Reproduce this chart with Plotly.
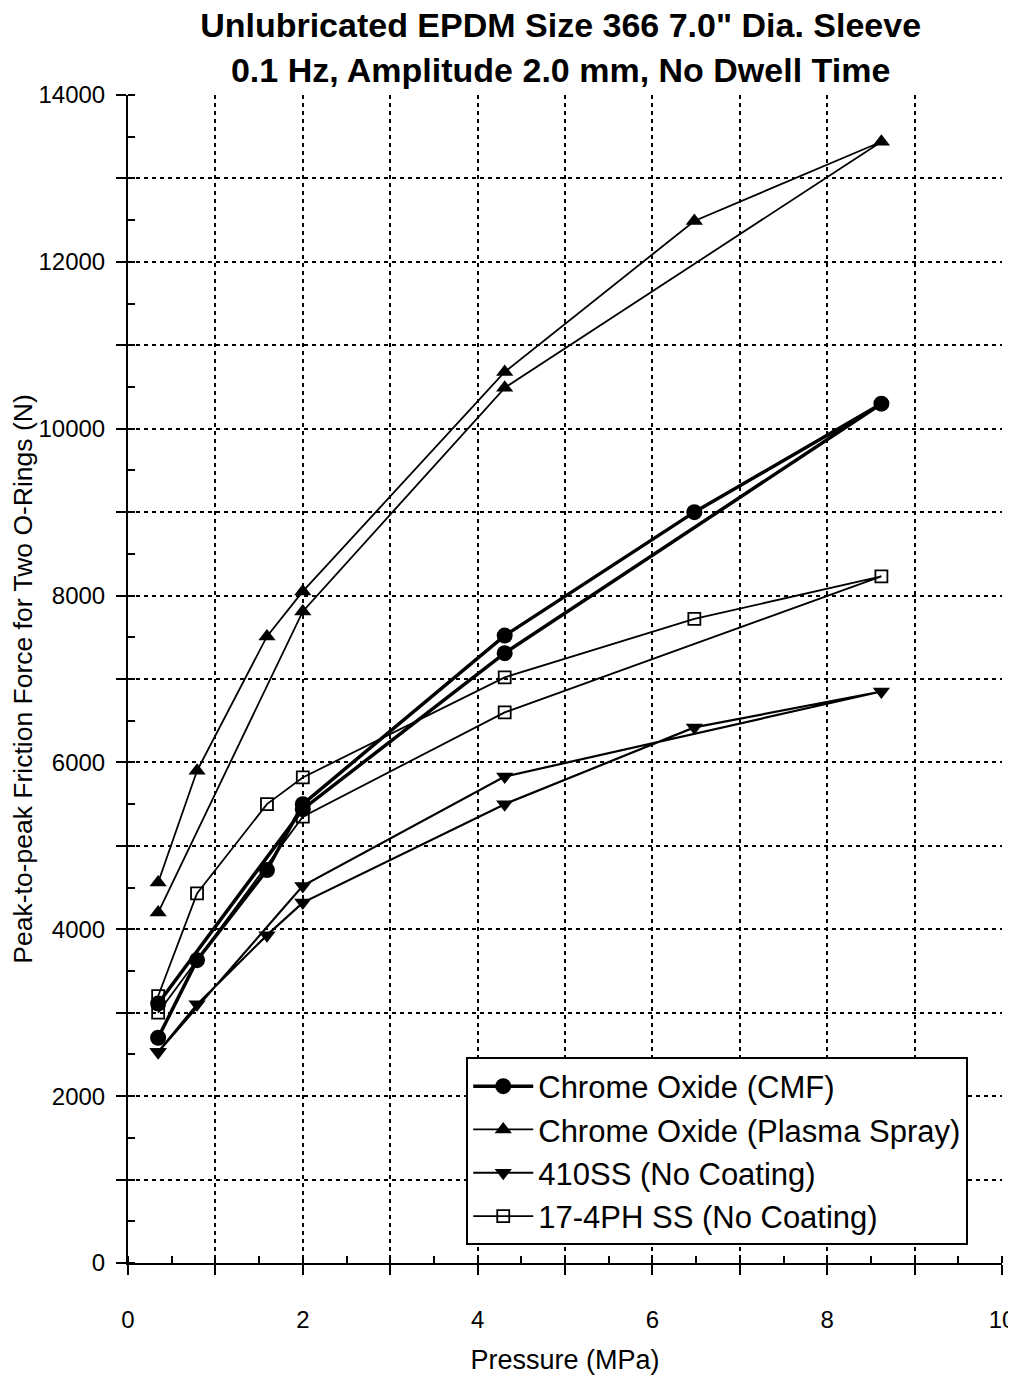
import plotly.graph_objects as go

# Pressure (MPa) along each loading/unloading loop
cmf_p = [0.345, 0.79, 1.59, 2.0, 4.31, 6.48, 8.62, 4.31, 2.0, 0.345]
cmf_f = [2700, 3630, 4710, 5500, 7520, 9000, 10300, 7310, 5440, 3110]

plasma_p = [0.345, 0.79, 1.59, 2.0, 4.31, 6.48, 8.62, 4.31, 2.0, 0.345]
plasma_f = [4560, 5900, 7510, 8050, 10680, 12490, 13440, 10490, 7810, 4200]

ss410_p = [0.345, 0.79, 1.59, 2.0, 4.31, 6.48, 8.62, 4.31, 2.0, 0.345]
ss410_f = [2530, 3100, 3930, 4320, 5500, 6420, 6850, 5830, 4520, 2530]

ss174_p = [0.345, 0.79, 1.59, 2.0, 4.31, 6.48, 8.62, 4.31, 2.0, 0.345]
ss174_f = [3200, 4430, 5500, 5820, 7020, 7720, 8230, 6600, 5350, 3000]

x_tickvals = list(range(0, 11))
x_ticktext = [str(v) if v % 2 == 0 else "" for v in x_tickvals]
y_tickvals = list(range(0, 14001, 1000))
y_ticktext = [str(v) if v % 2000 == 0 else "" for v in y_tickvals]

FONT = "Liberation Sans, Arial, sans-serif"

fig = go.Figure()
fig.add_trace(go.Scatter(
    x=cmf_p, y=cmf_f, mode="lines+markers", name="Chrome Oxide (CMF)",
    line=dict(color="black", width=3.5),
    marker=dict(symbol="circle", size=16, color="black")))
fig.add_trace(go.Scatter(
    x=plasma_p, y=plasma_f, mode="lines+markers", name="Chrome Oxide (Plasma Spray)",
    line=dict(color="black", width=1.8),
    marker=dict(symbol="triangle-up", size=15, color="black")))
fig.add_trace(go.Scatter(
    x=ss410_p, y=ss410_f, mode="lines+markers", name="410SS (No Coating)",
    line=dict(color="black", width=2.2),
    marker=dict(symbol="triangle-down", size=15, color="black")))
fig.add_trace(go.Scatter(
    x=ss174_p, y=ss174_f, mode="lines+markers", name="17-4PH SS (No Coating)",
    line=dict(color="black", width=1.8),
    marker=dict(symbol="square-open", size=12, color="black", line=dict(width=1.8))))

grid = dict(showgrid=True, gridcolor="black", gridwidth=1.8, griddash="4px,4px")

fig.update_layout(
    width=1008, height=1368,
    margin=dict(l=120, r=14, t=87, b=113, autoexpand=False),
    paper_bgcolor="white", plot_bgcolor="white",
    font=dict(family=FONT, color="black"),
    title=dict(
        text="<b>Unlubricated EPDM Size 366 7.0\" Dia. Sleeve<br>0.1 Hz, Amplitude 2.0 mm, No Dwell Time</b>",
        font=dict(size=34, family=FONT, color="black"),
        x=0.495, xanchor="center", xref="paper", y=0.9785, yanchor="top", yref="container",
        automargin=False),
    xaxis=dict(
        range=[0, 10], tickvals=x_tickvals, ticktext=x_ticktext,
        ticks="outside", ticklen=10, tickwidth=1.5, tickcolor="black",
        ticklabelstandoff=24, automargin=False,
        minor=dict(dtick=0.5, ticks="inside", ticklen=7, tickwidth=1.5, tickcolor="black", showgrid=False),
        showline=True, linecolor="black", linewidth=2, zeroline=False,
        tickfont=dict(size=24), title=dict(text="Pressure (MPa)", font=dict(size=27), standoff=18),
        **grid),
    yaxis=dict(
        range=[0, 14000], tickvals=y_tickvals, ticktext=y_ticktext,
        ticks="outside", ticklen=10, tickwidth=1.5, tickcolor="black",
        ticklabelstandoff=6, automargin=False,
        minor=dict(dtick=500, ticks="inside", ticklen=7, tickwidth=1.5, tickcolor="black", showgrid=False),
        showline=True, linecolor="black", linewidth=2, zeroline=False,
        tickfont=dict(size=24), title=dict(text="Peak-to-peak Friction Force for Two O-Rings (N)", font=dict(size=26.5), standoff=0),
        **grid),
    legend=dict(
        x=0.387, xanchor="left", y=0.015, yanchor="bottom",
        bgcolor="white", bordercolor="black", borderwidth=2,
        font=dict(size=31, family=FONT), itemwidth=60,
        tracegroupgap=0),
    showlegend=True,
)

fig.write_html("out.html")
